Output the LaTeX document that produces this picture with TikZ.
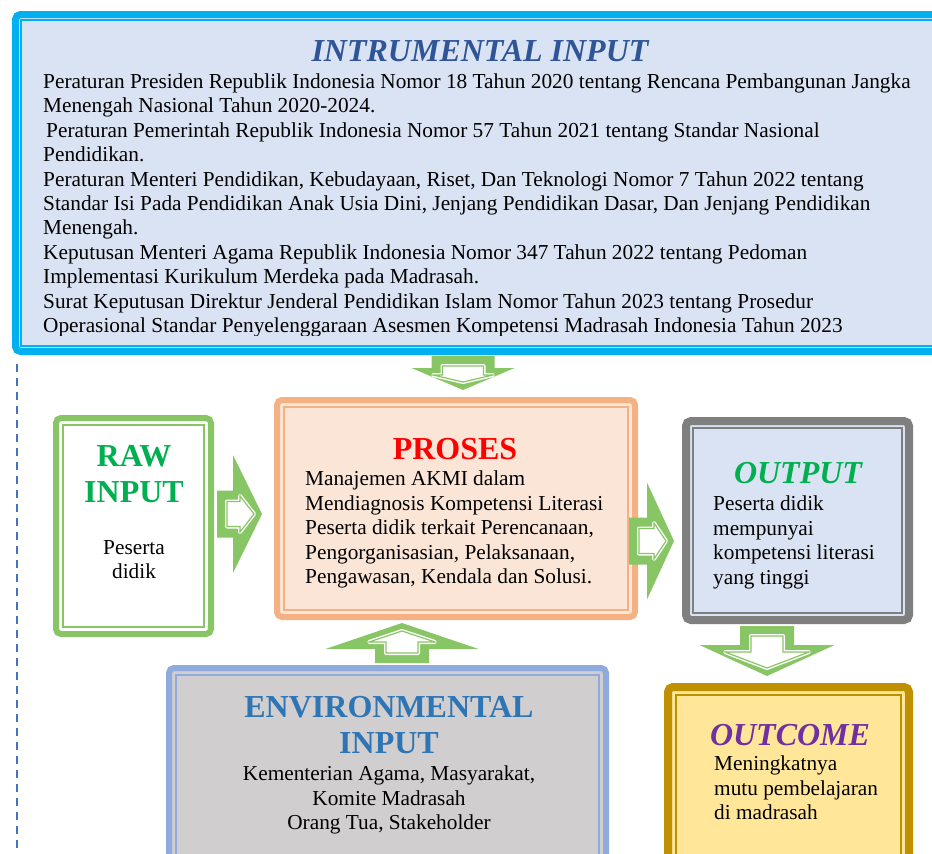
\documentclass[tikz,border=0pt]{standalone}
\usepackage{fontspec}
\setmainfont{Liberation Serif}
\usetikzlibrary{positioning, calc}
\definecolor{instrline}{HTML}{00B0F0}
\definecolor{instrfill}{HTML}{DAE3F3}
\definecolor{instrtitle}{HTML}{2F5597}
\definecolor{greenline}{HTML}{88C565}
\definecolor{greentitle}{HTML}{00B050}
\definecolor{procline}{HTML}{F4B183}
\definecolor{procfill}{HTML}{FBE5D6}
\definecolor{grayline}{HTML}{7F7F7F}
\definecolor{outcline}{HTML}{BF9000}
\definecolor{outcfill}{HTML}{FFE699}
\definecolor{outctitle}{HTML}{7030A0}
\definecolor{envline}{HTML}{8FAADC}
\definecolor{envfill}{HTML}{D0CECE}
\definecolor{envtitle}{HTML}{2E75B6}
\definecolor{dashblue}{HTML}{4472C4}
\tikzset{
  box/.style={draw, rounded corners=5pt, line width=6pt, inner sep=0pt, anchor=north west},
  ttl/.style={font=\fontsize{32}{36}\selectfont\bfseries, inner sep=0pt, align=center},
  ttli/.style={ttl, font=\fontsize{32}{36}\selectfont\bfseries\itshape},
  txt/.style={font=\fontsize{21.3}{24.6}\selectfont, inner sep=0pt},
}
% block arrow: start, angle, length, body half, head half, head length, inner head half
\newcommand{\blockarrow}[7]{%
  \begin{scope}[shift={#1}, rotate=#2]
    \fill[greenline] (0,-#4) -- (#3-#6,-#4) -- (#3-#6,-#5) -- (#3,0)
      -- (#3-#6,#5) -- (#3-#6,#4) -- (0,#4) -- cycle;
    \draw[greenline, line width=1.2pt, fill=white,
      preaction={draw=white, line width=4pt, line join=round}]
      (10,-#4+11) -- (#3-#6+7,-#4+11) -- (#3-#6+7,-#7) -- (#3-8,0)
      -- (#3-#6+7,#7) -- (#3-#6+7,#4-11) -- (10,#4-11) -- cycle;
  \end{scope}}

\begin{document}
\begin{tikzpicture}[x=1pt, y=-1pt]
  \path[use as bounding box] (0,0) rectangle (932,854);
  \clip (0,0) rectangle (932,854);

  % boxes
  \node[box, draw=instrline, fill=instrfill, line width=7pt, minimum width=945pt, minimum height=337pt] (instr) at (12,11) {};
  \node[box, draw=greenline, fill=white, minimum width=155pt, minimum height=216pt] (raw) at (53,415) {};
  \node[box, draw=procline, fill=procfill, minimum width=358pt, minimum height=217pt] (proc) at (274,397) {};
  \node[box, draw=grayline, fill=instrfill, line width=8pt, minimum width=223pt, minimum height=199pt] (output) at (682,417) {};
  \node[box, draw=outcline, fill=outcfill, line width=8pt, minimum width=241pt, minimum height=213pt] (outcome) at (664,683) {};
  \node[box, draw=envline, fill=envfill, minimum width=437pt, minimum height=232pt] (env) at (166,665) {};
  \foreach \b/\c/\d in {instr/instrline/9, raw/greenline/10, proc/procline/10,
      output/grayline/11, outcome/outcline/12, env/envline/10}
    \draw[\c, line width=1.5pt] ([shift={(\d,\d)}]\b.north west) rectangle ([shift={(-\d,-\d)}]\b.south east);

  \draw[dashblue, line width=2pt, dash pattern=on 8pt off 6pt] (17,364) -- (17,856);

  % texts
  \node[ttli, text=instrtitle, anchor=base] (instrttl) at (480,61) {INTRUMENTAL INPUT};
  \begin{scope}
    \clip (20,20) rectangle (930,335);
    \node[txt, font=\fontsize{21.3}{24.4}\selectfont, anchor=north west, align=left] (instrtxt) at (43,73.5) {%
      Peraturan Presiden Republik Indonesia Nomor 18 Tahun 2020 tentang Rencana Pembangunan Jangka\\
      Menengah Nasional Tahun 2020-2024.\\
      \hspace*{3pt}Peraturan Pemerintah Republik Indonesia Nomor 57 Tahun 2021 tentang Standar Nasional\\
      Pendidikan.\\
      Peraturan Menteri Pendidikan, Kebudayaan, Riset, Dan Teknologi Nomor 7 Tahun 2022 tentang\\
      Standar Isi Pada Pendidikan Anak Usia Dini, Jenjang Pendidikan Dasar, Dan Jenjang Pendidikan\\
      Menengah.\\
      Keputusan Menteri Agama Republik Indonesia Nomor 347 Tahun 2022 tentang Pedoman\\
      Implementasi Kurikulum Merdeka pada Madrasah.\\
      Surat Keputusan Direktur Jenderal Pendidikan Islam Nomor Tahun 2023 tentang Prosedur\\
      Operasional Standar Penyelenggaraan Asesmen Kompetensi Madrasah Indonesia Tahun 2023};
  \end{scope}

  \node[ttl, text=greentitle, anchor=north] (rawttl) at (134,445.5) {RAW\\INPUT};
  \node[txt, anchor=north, align=center] (rawtxt) at (134,540) {Peserta\\didik};

  \node[ttl, text=red, anchor=base] (procttl) at (455,459) {PROSES};
  \node[txt, anchor=north west, align=left] (proctxt) at (305,470.5) {Manajemen AKMI dalam\\
    Mendiagnosis Kompetensi Literasi\\Peserta didik terkait Perencanaan,\\
    Pengorganisasian, Pelaksanaan,\\Pengawasan, Kendala dan Solusi.};

  \node[ttli, text=greentitle, anchor=base] (outttl) at (798,483) {OUTPUT};
  \node[txt, anchor=north west, align=left] (outtxt) at (713,495.5) {Peserta didik\\mempunyai\\
    kompetensi literasi\\yang tinggi};

  \node[ttli, text=outctitle, anchor=base] (outcttl) at (790,745) {OUTCOME};
  \node[txt, anchor=north west, align=left] (outctxt) at (714,755.5) {Meningkatnya\\
    mutu pembelajaran\\di madrasah};

  \node[ttl, text=envtitle, anchor=north] (envttl) at (389,696) {ENVIRONMENTAL\\INPUT};
  \node[txt, anchor=north, align=center] (envtxt) at (389,765.5) {Kementerian Agama, Masyarakat,\\
    Komite Madrasah\\Orang Tua, Stakeholder};

  % arrows
  \blockarrow{($(proc.north |- instr.south)+(7,1)$)}{-90}{34}{31.5}{51.5}{22}{30}
  \blockarrow{($(raw.east)+(3,-12)$)}{0}{45}{23.5}{59}{29}{18}
  \blockarrow{($(proc.east)+(-9,32.5)$)}{0}{45}{23.5}{58.5}{27}{18}
  \blockarrow{($(output.south)+(-30.5,2)$)}{-90}{50}{27}{67.5}{31}{42}
  \blockarrow{($(env.north)+(14.5,-2)$)}{90}{40}{27}{76.5}{26}{33}
\end{tikzpicture}
\end{document}
